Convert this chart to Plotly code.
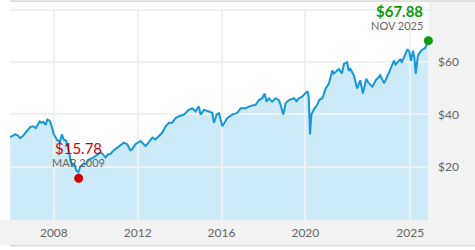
import plotly.graph_objects as go

# ---------------- data ----------------
dates = [
    "2005-12-01", "2006-01-15", "2006-03-01", "2006-04-15", "2006-05-20", "2006-07-01",
    "2006-08-15", "2006-10-01", "2006-11-15", "2007-01-01", "2007-02-20", "2007-03-15",
    "2007-05-01", "2007-06-01", "2007-07-01", "2007-08-10", "2007-09-10", "2007-10-20",
    "2007-11-20", "2008-01-01", "2008-02-01", "2008-03-01", "2008-04-15", "2008-05-20",
    "2008-06-20", "2008-08-01", "2008-09-20", "2008-10-15", "2008-11-20", "2008-12-20",
    "2009-01-25", "2009-03-05", "2009-04-01", "2009-05-15", "2009-07-15", "2009-09-01",
    "2009-11-25", "2010-01-15", "2010-03-25", "2010-05-01", "2010-06-20", "2010-08-01",
    "2010-09-15", "2010-11-01", "2011-01-10", "2011-03-01", "2011-05-05", "2011-07-01",
    "2011-08-29", "2011-09-25", "2011-11-24", "2012-02-20", "2012-05-18", "2012-06-17",
    "2012-09-12", "2012-11-07", "2013-01-05", "2013-03-03", "2013-05-01", "2013-06-28",
    "2013-08-25", "2013-10-23", "2013-12-20", "2014-03-17", "2014-06-10", "2014-08-10",
    "2014-10-05", "2014-12-01", "2015-01-01", "2015-02-28", "2015-05-26", "2015-07-24",
    "2015-08-22", "2015-10-08", "2015-11-17", "2015-12-16", "2016-01-15", "2016-04-12",
    "2016-07-08", "2016-10-01", "2016-11-29", "2017-02-24", "2017-05-22", "2017-08-17",
    "2017-10-15", "2017-12-13", "2018-01-22", "2018-02-25", "2018-04-05", "2018-06-02",
    "2018-07-31", "2018-09-27", "2018-10-27", "2018-12-13", "2019-01-22", "2019-03-21",
    "2019-06-17", "2019-08-01", "2019-09-10", "2019-11-05",
    "2020-01-31", "2020-02-19", "2020-03-01", "2020-03-23", "2020-04-15", "2020-06-01",
    "2020-07-25", "2020-09-01", "2020-10-25", "2020-12-20", "2021-02-15", "2021-04-15",
    "2021-05-10", "2021-08-07", "2021-09-30", "2021-11-03", "2021-12-30", "2022-01-27",
    "2022-02-25", "2022-04-25", "2022-05-20", "2022-06-22", "2022-08-15", "2022-09-30",
    "2022-11-28", "2023-01-05", "2023-03-15", "2023-05-10", "2023-07-30", "2023-10-05",
    "2023-12-31", "2024-03-25", "2024-04-20", "2024-05-25", "2024-07-20", "2024-08-05",
    "2024-11-15", "2024-12-20", "2025-01-15", "2025-02-20", "2025-03-15", "2025-04-08",
    "2025-05-15", "2025-07-10", "2025-09-25", "2025-11-14",
]
prices = [
    31.4, 31.8, 32.4, 32.0, 31.0, 31.6,
    32.6, 34.0, 35.2, 35.5, 34.8, 35.8,
    37.4, 36.8, 37.2, 36.0, 38.0, 37.6,
    35.8, 32.4, 31.0, 30.2, 29.7, 32.4,
    30.5, 30.0, 26.2, 22.5, 20.6, 21.3,
    18.8, 18.1, 20.0, 21.0, 21.3, 22.8,
    23.7, 24.5, 25.6, 25.0, 23.7, 24.8,
    25.0, 26.2, 27.4, 28.0, 29.3, 28.7,
    26.4, 26.8, 28.7, 29.9, 28.0, 28.7,
    31.2, 30.5, 31.8, 33.0, 35.5, 36.8,
    36.8, 38.6, 39.3, 39.9, 41.7, 42.3,
    41.1, 43.0, 39.9, 41.7, 41.1, 40.5,
    36.8, 39.9, 40.5, 38.0, 35.5, 38.6,
    39.9, 40.5, 42.3, 42.3, 43.2, 43.6,
    45.4, 46.1, 47.9, 44.8, 46.1, 44.8,
    46.1, 45.4, 43.6, 39.9, 44.2, 45.4,
    46.1, 45.0, 46.1, 46.7,
    48.6, 48.2, 46.1, 32.4, 39.9, 42.0,
    43.6, 45.5, 46.1, 49.8, 51.7, 56.6,
    55.4, 57.2, 55.5, 59.1, 59.7, 56.5,
    57.2, 54.8, 52.3, 49.8, 52.9, 47.9,
    53.5, 52.0, 50.4, 52.9, 54.8, 51.7,
    56.0, 60.3, 58.8, 59.7, 61.0, 59.5,
    64.7, 63.5, 60.3, 64.1, 61.5, 55.4,
    62.2, 64.1, 65.3, 67.88,
]

low_date, low_value, low_label = "2009-03-09", 15.78, "MAR 2009"
last_date, last_value, last_label = "2025-11-14", 67.88, "NOV 2025"

x_tickvals = ["2008-01-01", "2012-01-01", "2016-01-01", "2020-01-01", "2025-01-01"]
x_ticktext = ["2008", "2012", "2016", "2020", "2025"]
y_tickvals = [20, 40, 60]
y_ticktext = ["$20", "$40", "$60"]

x_range = ["2005-11-28", "2025-11-25"]
y_range = [0, 79.5]

# ---------------- layout geometry ----------------
W, H = 475, 250
ML, MR, MT, MB = 10, 46, 10, 27
PW, PH = W - ML - MR, H - MT - MB


def px_x(p):
    return (p - ML) / PW


def px_y(p):
    return (H - MB - p) / PH


FONT = "Lato, 'Open Sans', sans-serif"
LINE = "#1597d8"
FILL = "#cdeaf8"
GRID = "#eef2f4"
PANEL = "#f2f2f2"
BORDER = "#dcdcdc"

fig = go.Figure()

# fill area (bottom subplot, under gridlines)
fig.add_trace(go.Scatter(
    x=dates, y=prices, mode="lines", fill="tozeroy",
    fillcolor=FILL, line=dict(width=0, color=FILL),
    hoverinfo="skip", showlegend=False, xaxis="x", yaxis="y",
))

# price line (top subplot, over gridlines)
fig.add_trace(go.Scatter(
    x=dates, y=prices, mode="lines",
    line=dict(width=2, color=LINE),
    showlegend=False, xaxis="x2", yaxis="y2",
))

# low marker
fig.add_trace(go.Scatter(
    x=[low_date], y=[low_value], mode="markers",
    marker=dict(size=9, color="#cc0000"), cliponaxis=False,
    showlegend=False, xaxis="x2", yaxis="y2",
))
# last marker
fig.add_trace(go.Scatter(
    x=[last_date], y=[last_value], mode="markers",
    marker=dict(size=9, color="#0d9a0d"), cliponaxis=False,
    showlegend=False, xaxis="x2", yaxis="y2",
))

shapes = [
    # right label panel
    dict(type="rect", xref="paper", yref="paper", layer="below",
         x0=px_x(ML + PW), x1=px_x(W), y0=px_y(248), y1=px_y(2),
         fillcolor=PANEL, line=dict(width=0)),
    # bottom label band
    dict(type="rect", xref="paper", yref="paper", layer="below",
         x0=px_x(0), x1=px_x(ML + PW), y0=px_y(248), y1=px_y(MT + PH),
         fillcolor=PANEL, line=dict(width=0)),
    # top border
    dict(type="rect", xref="paper", yref="paper", layer="below",
         x0=px_x(ML), x1=px_x(W), y0=px_y(2), y1=px_y(0),
         fillcolor=BORDER, line=dict(width=0)),
    # bottom border
    dict(type="rect", xref="paper", yref="paper", layer="below",
         x0=px_x(ML), x1=px_x(W), y0=px_y(250), y1=px_y(248),
         fillcolor=BORDER, line=dict(width=0)),
    # top plot edge line
    dict(type="line", xref="paper", yref="paper", layer="below",
         x0=0, x1=1, y0=1, y1=1, line=dict(color=GRID, width=2)),
]

annotations = [
    dict(x=low_date, y=low_value, xref="x2", yref="y2", text="$" + f"{low_value:.2f}",
         showarrow=False, xanchor="center", yanchor="middle", yshift=30,
         font=dict(family=FONT, size=15, color="#cc0000")),
    dict(x=low_date, y=low_value, xref="x2", yref="y2", text=low_label,
         showarrow=False, xanchor="center", yanchor="middle", yshift=16,
         font=dict(family=FONT, size=11, color="#666666")),
    dict(x=last_date, y=last_value, xref="x2", yref="y2", text="<b>$" + f"{last_value:.2f}" + "</b>",
         showarrow=False, xanchor="right", yanchor="middle", yshift=30, xshift=-3,
         font=dict(family=FONT, size=15, color="#0d9a0d")),
    dict(x=last_date, y=last_value, xref="x2", yref="y2", text=last_label,
         showarrow=False, xanchor="right", yanchor="middle", yshift=15, xshift=-3,
         font=dict(family=FONT, size=11, color="#666666")),
]

axis_common = dict(zeroline=False, showline=False, fixedrange=True)

fig.update_layout(
    width=W, height=H,
    margin=dict(l=ML, r=MR, t=MT, b=MB, pad=0),
    paper_bgcolor="white",
    plot_bgcolor="rgba(0,0,0,0)",
    showlegend=False,
    hovermode=False,
    font=dict(family=FONT, size=12, color="#666666"),
    xaxis=dict(type="date", range=x_range, domain=[0, 1], anchor="y",
               showgrid=False, showticklabels=False, **axis_common),
    yaxis=dict(range=y_range, domain=[0, 1], anchor="x",
               showgrid=False, showticklabels=False, **axis_common),
    xaxis2=dict(type="date", range=x_range, domain=[0, 1], anchor="y2",
                showgrid=True, gridcolor=GRID, gridwidth=2,
                tickmode="array", tickvals=x_tickvals, ticktext=x_ticktext,
                ticks="", ticklabelstandoff=4,
                tickfont=dict(family=FONT, size=12, color="#666666"),
                **axis_common),
    yaxis2=dict(range=y_range, domain=[0, 1], anchor="x2", side="right",
                showgrid=True, gridcolor=GRID, gridwidth=2,
                tickmode="array", tickvals=y_tickvals, ticktext=y_ticktext,
                ticks="", ticklabelstandoff=8,
                tickfont=dict(family=FONT, size=12, color="#666666"),
                **axis_common),
    shapes=shapes,
    annotations=annotations,
)

fig.write_html("out.html", config={"displayModeBar": False})
